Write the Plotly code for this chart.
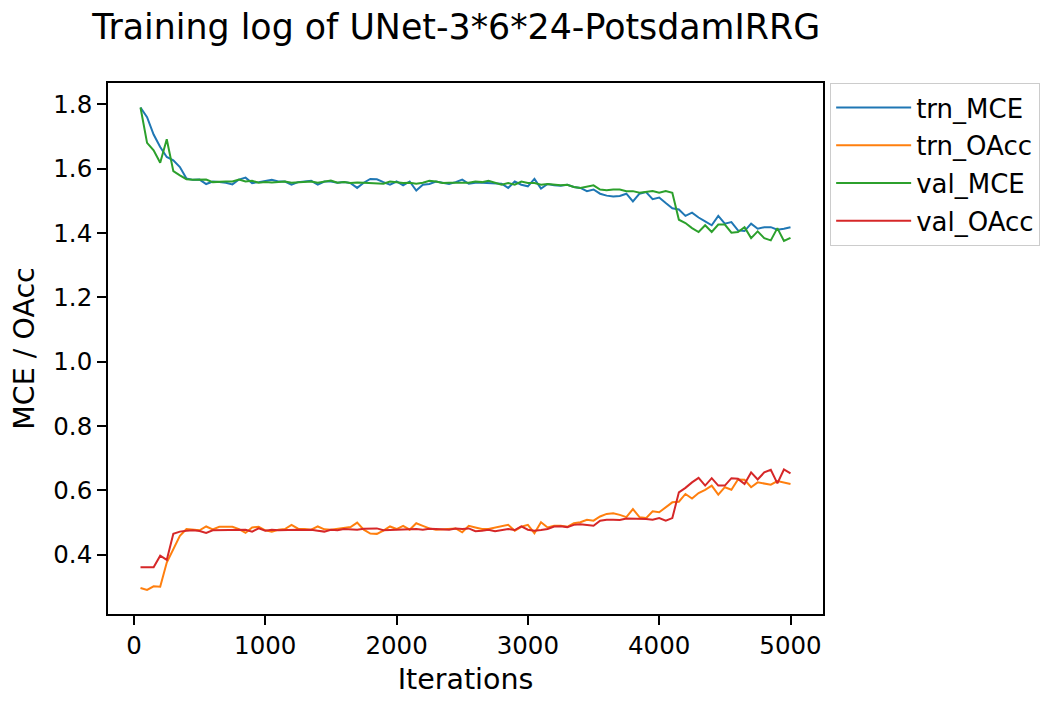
import plotly.graph_objects as go

iterations = list(range(50, 5001, 50))

trn_MCE = [
    1.790, 1.760, 1.706, 1.667, 1.636, 1.626, 1.605, 1.569, 1.565, 1.566,
    1.552, 1.560, 1.558, 1.556, 1.551, 1.566, 1.572, 1.555, 1.558, 1.562,
    1.565, 1.560, 1.560, 1.550, 1.558, 1.560, 1.562, 1.550, 1.560, 1.560,
    1.556, 1.558, 1.555, 1.540, 1.556, 1.568, 1.567, 1.558, 1.550, 1.560,
    1.548, 1.560, 1.532, 1.550, 1.552, 1.560, 1.555, 1.552, 1.558, 1.566,
    1.553, 1.556, 1.556, 1.555, 1.554, 1.553, 1.540, 1.560, 1.550, 1.545,
    1.568, 1.538, 1.552, 1.548, 1.547, 1.550, 1.543, 1.540, 1.530, 1.535,
    1.522, 1.516, 1.513, 1.515, 1.522, 1.498, 1.522, 1.527, 1.505, 1.510,
    1.493, 1.477, 1.473, 1.453, 1.463, 1.448, 1.436, 1.424, 1.453, 1.429,
    1.434, 1.408, 1.406, 1.429, 1.413, 1.418, 1.418, 1.410, 1.413, 1.418,
]

trn_OAcc = [
    0.297, 0.291, 0.302, 0.301, 0.376, 0.418, 0.459, 0.480, 0.479, 0.476,
    0.488, 0.479, 0.487, 0.487, 0.487, 0.480, 0.468, 0.485, 0.487, 0.476,
    0.472, 0.478, 0.480, 0.493, 0.481, 0.480, 0.478, 0.488, 0.479, 0.478,
    0.480, 0.484, 0.486, 0.500, 0.478, 0.466, 0.465, 0.475, 0.488, 0.480,
    0.490, 0.478, 0.498, 0.490, 0.482, 0.478, 0.480, 0.480, 0.482, 0.470,
    0.490, 0.485, 0.480, 0.480, 0.485, 0.488, 0.493, 0.475, 0.487, 0.493,
    0.467, 0.501, 0.485, 0.490, 0.490, 0.487, 0.498, 0.501, 0.509, 0.506,
    0.519, 0.527, 0.529, 0.524, 0.517, 0.542, 0.517, 0.514, 0.535, 0.532,
    0.547, 0.563, 0.565, 0.589, 0.575, 0.592, 0.602, 0.615, 0.587, 0.610,
    0.602, 0.634, 0.633, 0.610, 0.625, 0.622, 0.618, 0.629, 0.625, 0.620,
]

val_MCE = [
    1.790, 1.680, 1.657, 1.618, 1.691, 1.592, 1.579, 1.567, 1.565, 1.565,
    1.566, 1.558, 1.560, 1.560, 1.560, 1.566, 1.560, 1.562, 1.556, 1.558,
    1.557, 1.558, 1.560, 1.556, 1.558, 1.558, 1.560, 1.556, 1.560, 1.563,
    1.556, 1.558, 1.555, 1.557, 1.556, 1.555, 1.555, 1.553, 1.560, 1.557,
    1.555, 1.556, 1.553, 1.556, 1.562, 1.560, 1.555, 1.556, 1.556, 1.557,
    1.556, 1.560, 1.558, 1.562, 1.555, 1.550, 1.555, 1.550, 1.560, 1.555,
    1.555, 1.550, 1.552, 1.550, 1.548, 1.550, 1.543, 1.540, 1.545, 1.548,
    1.535, 1.533, 1.535, 1.535, 1.530, 1.530, 1.525, 1.527, 1.530, 1.525,
    1.530, 1.525, 1.441, 1.431, 1.415, 1.403, 1.424, 1.403, 1.426, 1.426,
    1.401, 1.403, 1.418, 1.384, 1.405, 1.384, 1.377, 1.415, 1.375, 1.385,
]

val_OAcc = [
    0.361, 0.361, 0.361, 0.397, 0.384, 0.465, 0.472, 0.475, 0.476, 0.474,
    0.468, 0.476, 0.476, 0.476, 0.476, 0.476, 0.478, 0.472, 0.482, 0.475,
    0.478, 0.476, 0.477, 0.478, 0.478, 0.477, 0.478, 0.475, 0.472, 0.478,
    0.476, 0.480, 0.478, 0.478, 0.481, 0.482, 0.482, 0.476, 0.477, 0.479,
    0.480, 0.481, 0.480, 0.478, 0.481, 0.480, 0.478, 0.478, 0.482, 0.480,
    0.482, 0.473, 0.475, 0.478, 0.473, 0.477, 0.480, 0.477, 0.488, 0.478,
    0.475, 0.477, 0.480, 0.488, 0.489, 0.486, 0.493, 0.495, 0.493, 0.490,
    0.506, 0.509, 0.509, 0.508, 0.513, 0.513, 0.513, 0.511, 0.509, 0.514,
    0.506, 0.514, 0.594, 0.608, 0.625, 0.639, 0.615, 0.638, 0.615, 0.615,
    0.638, 0.636, 0.620, 0.656, 0.634, 0.656, 0.664, 0.622, 0.665, 0.653,
]

x_ticks = [0, 1000, 2000, 3000, 4000, 5000]
y_ticks = [0.4, 0.6, 0.8, 1.0, 1.2, 1.4, 1.6, 1.8]

series = [
    ("trn_MCE", trn_MCE, "#1f77b4"),
    ("trn_OAcc", trn_OAcc, "#ff7f0e"),
    ("val_MCE", val_MCE, "#2ca02c"),
    ("val_OAcc", val_OAcc, "#d62728"),
]

FONT = "DejaVu Sans"

fig = go.Figure()
for name, vals, color in series:
    fig.add_trace(go.Scatter(
        x=iterations, y=vals, mode="lines", name=name, legendgroup=name,
        line=dict(color=color, width=2),
    ))

axis_common = dict(
    showline=True, linecolor="black", linewidth=1.7, mirror=True,
    ticks="outside", ticklen=9, tickwidth=1.7, tickcolor="black",
    showgrid=False, zeroline=False,
    tickfont=dict(family=FONT, size=24.5, color="black"),
)

fig.update_layout(
    width=1060, height=708,
    paper_bgcolor="white", plot_bgcolor="white",
    margin=dict(l=100, r=245, t=75, b=102),
    font=dict(family=FONT, color="black"),
    title=dict(text="Training log of UNet-3*6*24-PotsdamIRRG",
               font=dict(family=FONT, size=34.8, color="black"),
               x=0.487, xanchor="center", xref="paper",
               y=1 - 19 / 708, yanchor="middle", yref="container"),
    xaxis=dict(range=[-197.5, 5247.5], tickvals=x_ticks,
               ticktext=[str(v) for v in x_ticks],
               title=dict(text="Iterations", font=dict(family=FONT, size=28.5), standoff=10),
               **axis_common),
    yaxis=dict(range=[0.216, 1.866], tickvals=y_ticks,
               ticktext=[f"{v:.1f}" for v in y_ticks],
               title=dict(text="MCE / OAcc", font=dict(family=FONT, size=28.5), standoff=12),
               **axis_common),
    legend=dict(x=1.01, xanchor="left", y=1.0, yanchor="top",
                bgcolor="white", bordercolor="#cccccc", borderwidth=1,
                font=dict(family=FONT, size=26, color="black"),
                tracegroupgap=1, itemwidth=75),
    showlegend=True,
)

fig.write_html("out.html")
